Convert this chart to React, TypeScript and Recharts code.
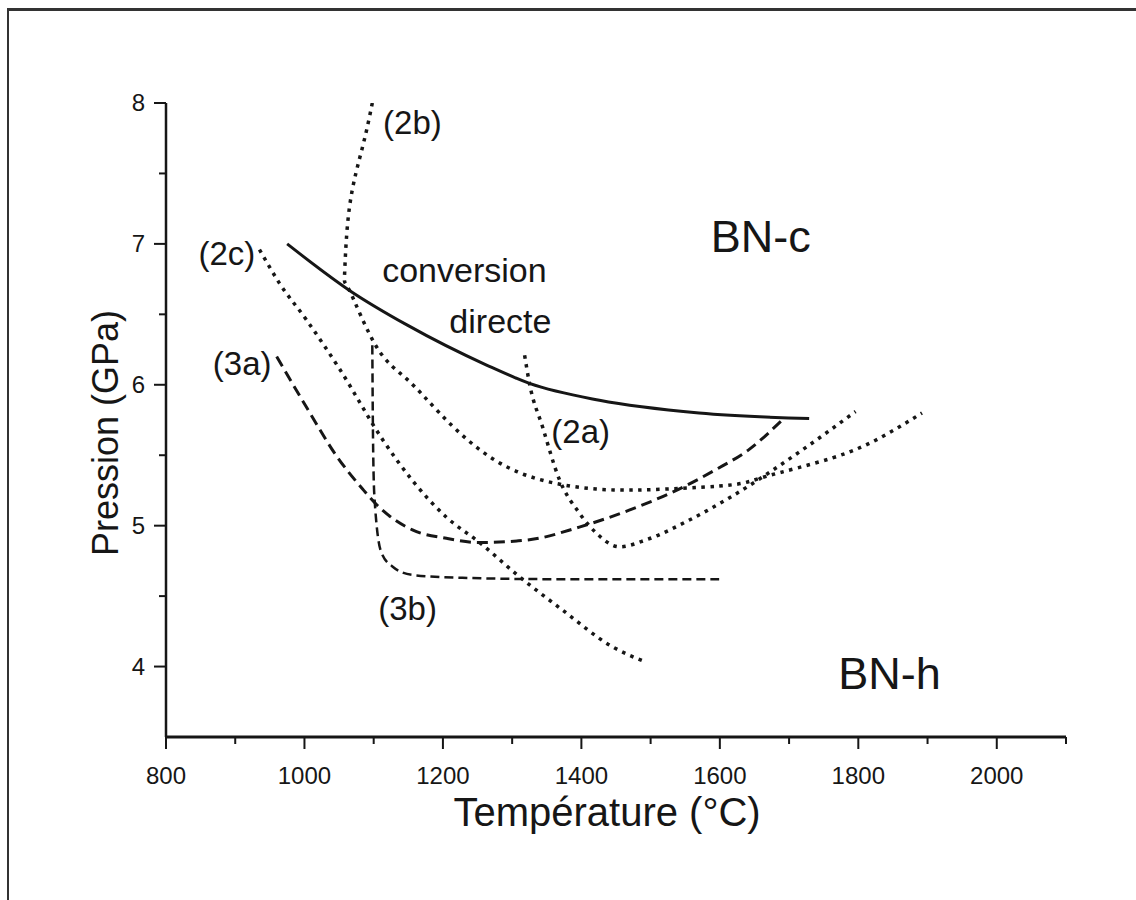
import React from 'react';
import { LineChart, Line, XAxis, YAxis, ReferenceDot } from 'recharts';

// axis ticks
const xTicks = [800, 900, 1000, 1100, 1200, 1300, 1400, 1500, 1600, 1700, 1800, 1900, 2000, 2100];
const xLabelled = [800, 1000, 1200, 1400, 1600, 1800, 2000];
const yTicks = [4, 4.5, 5, 5.5, 6, 6.5, 7, 7.5, 8];
const yLabelled = [4, 5, 6, 7, 8];

// solid line : limit of direct conversion
const solidT = [975, 1065, 1148, 1263, 1325, 1426, 1570, 1729];
const solidP = [7.0, 6.67, 6.425, 6.14, 6.01, 5.89, 5.8, 5.76];

// (2a) dotted
const c2aT = [1318, 1325, 1344, 1368, 1397, 1421, 1455, 1494, 1556, 1618, 1714, 1796];
const c2aP = [6.21, 6.01, 5.7, 5.33, 5.09, 4.95, 4.85, 4.9, 5.04, 5.21, 5.52, 5.81];

// (2b) dotted
const c2bT = [1098, 1084, 1065, 1058, 1065, 1104, 1148, 1195, 1253, 1325, 1421, 1522, 1618, 1667, 1762, 1834, 1892];
const c2bP = [8.0, 7.69, 7.26, 6.79, 6.67, 6.27, 6.04, 5.8, 5.54, 5.35, 5.26, 5.26, 5.29, 5.35, 5.48, 5.63, 5.8];

// (2c) dotted
const c2cT = [935, 964, 1003, 1051, 1113, 1156, 1205, 1253, 1310, 1373, 1445, 1494];
const c2cP = [6.96, 6.72, 6.46, 6.11, 5.61, 5.32, 5.06, 4.88, 4.64, 4.4, 4.14, 4.03];

// (3a) dashed
const c3aT = [960, 1003, 1047, 1084, 1104, 1156, 1205, 1253, 1325, 1397, 1469, 1541, 1595, 1642, 1690];
const c3aP = [6.2, 5.84, 5.49, 5.26, 5.15, 4.97, 4.91, 4.88, 4.9, 4.99, 5.11, 5.26, 5.4, 5.54, 5.75];

// (3b) dashed
const c3bT = [1098, 1099, 1101, 1111, 1127, 1156, 1228, 1372, 1599];
const c3bP = [6.28, 5.63, 5.21, 4.81, 4.71, 4.65, 4.63, 4.62, 4.62];

const notes = [
  { text: '(2b)', t: 1156, p: 7.78, size: 33 },
  { text: '(2c)', t: 888, p: 6.85, size: 33 },
  { text: '(3a)', t: 910, p: 6.07, size: 33 },
  { text: '(2a)', t: 1399, p: 5.59, size: 33 },
  { text: '(3b)', t: 1149, p: 4.33, size: 33 },
  { text: 'conversion', t: 1231, p: 6.73, size: 34 },
  { text: 'directe', t: 1283, p: 6.37, size: 34 },
  { text: 'BN-c', t: 1659, p: 6.94, size: 45 },
  { text: 'BN-h', t: 1845, p: 3.84, size: 45 },
];

const pts = (t: number[], p: number[]) => t.map((x, i) => ({ t: x, p: p[i] }));

const FONT = '"Liberation Sans", Arial, sans-serif';
const INK = '#161616';
const DOTS = '3.5 5.5';

const XTick = (props: any) => {
  const { x, y, payload } = props;
  const major = xLabelled.includes(payload.value);
  return (
    <g>
      <line x1={x} x2={x} y1={y} y2={y + (major ? 12 : 7)} stroke={INK} strokeWidth={2} />
      {major && (
        <text x={x} y={y + 47} textAnchor="middle" fontSize={24} fontFamily={FONT} fill={INK}>
          {payload.value}
        </text>
      )}
    </g>
  );
};

const YTick = (props: any) => {
  const { x, y, payload } = props;
  const major = yLabelled.includes(payload.value);
  return (
    <g>
      <line x1={x} x2={x - (major ? 12 : 7)} y1={y} y2={y} stroke={INK} strokeWidth={2} />
      {major && (
        <text x={x - 21} y={y + 8} textAnchor="end" fontSize={24} fontFamily={FONT} fill={INK}>
          {payload.value}
        </text>
      )}
    </g>
  );
};

export default function App() {
  return (
    <div
      style={{
        position: 'fixed',
        left: 7,
        top: 8,
        right: 0,
        bottom: 0,
        borderLeft: '2px solid #333',
        borderTop: '3px solid #333',
        background: '#fff',
        overflow: 'hidden',
      }}
    >
      <LineChart width={1110} height={870} margin={{ top: 92, right: 53, left: 1, bottom: 84 }}>
        <XAxis
          type="number"
          dataKey="t"
          domain={[800, 2100]}
          ticks={xTicks}
          interval={0}
          tickSize={0}
          tickMargin={0}
          tick={<XTick />}
          height={60}
          axisLine={{ stroke: INK, strokeWidth: 3 }}
          allowDataOverflow
          label={{
            content: (lp: any) => {
              const vb = lp.viewBox;
              return (
                <text
                  x={vb.x + vb.width / 2 - 9}
                  y={vb.y + 89}
                  textAnchor="middle"
                  fontSize={40}
                  fontFamily={FONT}
                  fill={INK}
                >
                  Température (°C)
                </text>
              );
            },
          }}
        />
        <YAxis
          type="number"
          dataKey="p"
          domain={[3.5, 8]}
          ticks={yTicks}
          interval={0}
          tickSize={0}
          tickMargin={0}
          tick={<YTick />}
          width={156}
          axisLine={{ stroke: INK, strokeWidth: 2.5 }}
          allowDataOverflow
          label={{
            content: (lp: any) => {
              const vb = lp.viewBox;
              const cx = vb.x + vb.width - 61;
              const cy = vb.y + vb.height / 2 + 13;
              return (
                <text
                  x={cx}
                  y={cy}
                  transform={`rotate(-90 ${cx} ${cy})`}
                  textAnchor="middle"
                  dominantBaseline="central"
                  fontSize={36}
                  fontFamily={FONT}
                  fill={INK}
                >
                  Pression (GPa)
                </text>
              );
            },
          }}
        />
        <Line data={pts(solidT, solidP)} dataKey="p" type="monotone" stroke={INK} strokeWidth={3} dot={false} isAnimationActive={false} />
        <Line data={pts(c2aT, c2aP)} dataKey="p" type="monotone" stroke={INK} strokeWidth={3.5} strokeDasharray={DOTS} dot={false} isAnimationActive={false} />
        <Line data={pts(c2bT, c2bP)} dataKey="p" type="natural" stroke={INK} strokeWidth={3.5} strokeDasharray={DOTS} dot={false} isAnimationActive={false} />
        <Line data={pts(c2cT, c2cP)} dataKey="p" type="monotone" stroke={INK} strokeWidth={3.5} strokeDasharray={DOTS} dot={false} isAnimationActive={false} />
        <Line data={pts(c3aT, c3aP)} dataKey="p" type="monotone" stroke={INK} strokeWidth={3} strokeDasharray="11 6" dot={false} isAnimationActive={false} />
        <Line data={pts(c3bT, c3bP)} dataKey="p" type="monotone" stroke={INK} strokeWidth={2.5} strokeDasharray="9 5" dot={false} isAnimationActive={false} />
        {notes.map((n) => (
          <ReferenceDot
            key={n.text}
            x={n.t}
            y={n.p}
            ifOverflow="visible"
            shape={(sp: any) => (
              <text x={sp.cx} y={sp.cy} textAnchor="middle" fontSize={n.size} fontFamily={FONT} fill={INK}>
                {n.text}
              </text>
            )}
          />
        ))}
      </LineChart>
    </div>
  );
}
